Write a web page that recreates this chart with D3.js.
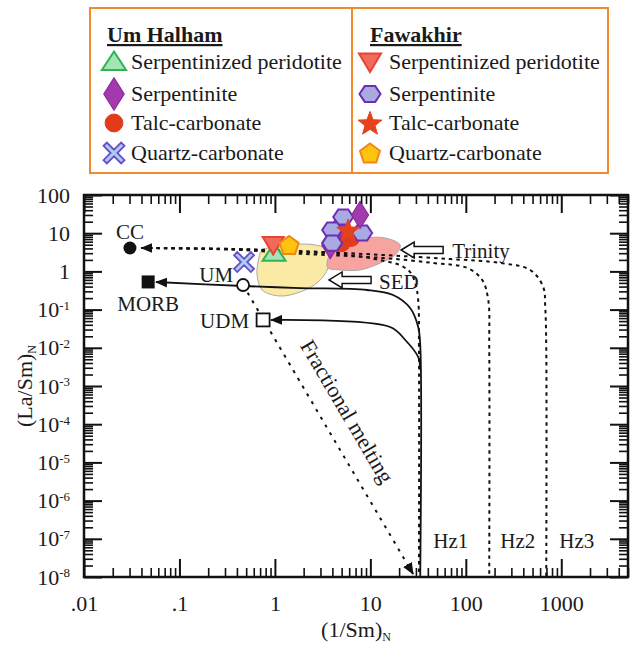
<!DOCTYPE html>
<html><head><meta charset="utf-8">
<script src="https://cdn.jsdelivr.net/npm/d3@7"></script>
<style>
body{margin:0;background:#fff}
svg{display:block}
text{font-family:"Liberation Serif","Times New Roman",serif;fill:#1a1a1a}
</style>
</head><body>
<svg id="chart" width="636" height="646"></svg>
<script>
// ---------- data ----------
const xTickValues = [0.01, 0.1, 1, 10, 100, 1000];
const xTickLabels = [".01", ".1", "1", "10", "100", "1000"];
const yTickValues = [100, 10, 1, 1e-1, 1e-2, 1e-3, 1e-4, 1e-5, 1e-6, 1e-7, 1e-8];
const yTickBase   = ["100", "10", "1", "10", "10", "10", "10", "10", "10", "10", "10"];
const yTickExp    = ["", "", "", "-1", "-2", "-3", "-4", "-5", "-6", "-7", "-8"];

// samples  [1/Sm_N, La/Sm_N]
const umSerpPeridotite  = [[0.98, 3.0]];
const umSerpentinite    = [[7.8, 30], [4.8, 16], [3.8, 4.9]];
const umTalcCarbonate   = [[5.0, 5.5], [6.3, 7.5]];
const umQuartzCarbonate = [[0.475, 1.76]];
const fwSerpPeridotite  = [[0.96, 4.9]];
const fwSerpentinite    = [[5.2, 26.5], [3.98, 12.1], [3.98, 5.5], [8.2, 10.1]];
const fwTalcCarbonate   = [[5.85, 12.1]];
const fwQuartzCarbonate = [[1.41, 4.9]];

// reference components
const ccPoint   = [0.0303, 4.1];
const morbPoint = [0.047, 0.53];
const umPoint   = [0.464, 0.44];
const udmPoint  = [0.752, 0.0537];

// fields
const yellowField = [[0.667,1.76],[0.735,3.63],[1.13,4.35],[1.84,5.2],[2.98,4.6],[3.79,3.2],[3.61,1.23],[2.84,0.53],[1.84,0.29],[1.13,0.227],[0.735,0.326],[0.65,0.80]];
const trinityField = [[3.52,1.76],[4.07,3.63],[5.44,5.9],[8.82,7.5],[14.3,7.5],[20.5,4.9],[18.2,2.69],[12.7,1.66],[7.8,1.09],[4.8,1.09],[3.6,1.23]];

// mixing curves CC -> harzburgites (dotted)
const mixHz1 = [[0.04,4.1],[0.365,3.86],[1.84,3.22],[6.14,2.69],[13.6,1.9],[20.5,1.45],[26.1,0.96],[29.5,0.5],[31.7,0.178],[32.3,0.00875],[32.3,1e-8]];
const mixHz2 = [[0.04,4.1],[0.365,3.7],[1.84,2.9],[13.6,2.24],[45.5,1.66],[103.5,1.23],[148.6,0.596],[171.8,0.178],[175.9,0.01],[175.9,1e-8]];
const mixHz3 = [[0.04,4.1],[0.365,3.86],[1.84,3.42],[13.6,2.69],[68.6,2.11],[229.6,1.66],[473,1.09],[647,0.39],[679,0.117],[696,0.01],[696,1e-8]];
// solid curves (towards MORB and UDM)
const curveMorb = [[0.0569,0.528],[0.464,0.415],[1.84,0.367],[9.25,0.326],[17.3,0.241],[26.1,0.110],[31.7,0.0351],[33.3,0.0118],[33.3,1e-8]];
const curveUdm  = [[0.912,0.0535],[16.1,0.0351],[23.2,0.016],[31.7,0.00574],[33.3,0.00263]];
// fractional melting trend
const fracMelt = [[0.464,0.44],[28,1.2e-8]];

const legendLeftTitle = "Um Halham";
const legendRightTitle = "Fawakhir";
const legendLabels = ["Serpentinized peridotite","Serpentinite","Talc-carbonate","Quartz-carbonate"];

// ---------- setup ----------
const svg = d3.select("#chart");
const x = d3.scaleLog().domain([0.01, 5000]).range([84, 628]);
const y = d3.scaleLog().domain([1e-8, 100]).range([577, 195]);
const [X0, X1] = x.range();
const [Y0, Y1] = y.range(); // Y0 bottom, Y1 top

const defs = svg.append("defs");
defs.append("marker").attr("id","ah").attr("viewBox","0 0 12 10").attr("refX",11).attr("refY",5)
  .attr("markerWidth",12).attr("markerHeight",10).attr("markerUnits","userSpaceOnUse")
  .attr("orient","auto-start-reverse")
  .append("path").attr("d","M0,0 L12,5 L0,10 Z").attr("fill","#111");

// ---------- fields ----------
const closed = d3.line().x(d=>x(d[0])).y(d=>y(d[1])).curve(d3.curveCatmullRomClosed.alpha(0.5));
svg.append("path").attr("d", closed(yellowField)).attr("fill","#fbeaa6").attr("stroke","#a9a9a9").attr("stroke-width",1);
svg.append("path").attr("d", closed(trinityField)).attr("fill","#f7a3a0").attr("stroke","#a9a9a9").attr("stroke-width",1);

// ---------- curves ----------
const open = d3.line().x(d=>x(d[0])).y(d=>y(d[1])).curve(d3.curveCatmullRom.alpha(0.5));
[mixHz3, mixHz2, mixHz1].forEach((c,i)=>{
  const p = svg.append("path").attr("d", open(c)).attr("fill","none").attr("stroke","#111")
    .attr("stroke-width",2).attr("stroke-dasharray","3.5,4");
  if (i===2) p.attr("marker-start","url(#ah)");
});
svg.append("path").attr("d", open(curveMorb)).attr("fill","none").attr("stroke","#111").attr("stroke-width",1.8).attr("marker-start","url(#ah)");
svg.append("path").attr("d", open(curveUdm)).attr("fill","none").attr("stroke","#111").attr("stroke-width",1.8).attr("marker-start","url(#ah)");
svg.append("path").attr("d", d3.line().x(d=>x(d[0])).y(d=>y(d[1]))(fracMelt)).attr("fill","none").attr("stroke","#111")
  .attr("stroke-width",2).attr("stroke-dasharray","3,6").attr("marker-end","url(#ah)");

// reference component symbols
svg.append("circle").attr("cx",x(ccPoint[0])).attr("cy",y(ccPoint[1])).attr("r",6.5).attr("fill","#111");
svg.append("rect").attr("x",x(morbPoint[0])-6.5).attr("y",y(morbPoint[1])-6.5).attr("width",13).attr("height",13).attr("fill","#111");
svg.append("circle").attr("cx",x(umPoint[0])).attr("cy",y(umPoint[1])).attr("r",6).attr("fill","#fff").attr("stroke","#111").attr("stroke-width",1.8);
svg.append("rect").attr("x",x(udmPoint[0])-6.5).attr("y",y(udmPoint[1])-6.5).attr("width",13).attr("height",13).attr("fill","#fff").attr("stroke","#111").attr("stroke-width",1.8);

// labels
const lab = (t, px, py, anchor) => svg.append("text").attr("x",px).attr("y",py).attr("font-size",21).attr("text-anchor",anchor||"start").text(t);
lab("CC", x(ccPoint[0]), y(ccPoint[1])-9, "middle");
lab("MORB", x(morbPoint[0]), y(morbPoint[1])+29, "middle");
lab("UM", x(umPoint[0])-10, y(umPoint[1])-3, "end");
lab("UDM", x(udmPoint[0])-14, y(udmPoint[1])+8, "end");
lab("Hz1", x(33.3)+13, Y0-29);
lab("Hz2", x(175.9)+11, Y0-29);
lab("Hz3", x(696)+13, Y0-29);

// block arrows (tip at anchor, pointing left)
function blockArrow(px, py){
  svg.append("path").attr("transform",`translate(${px},${py})`)
    .attr("d","M0,0 L13,-8 L13,-3.5 L42,-3.5 L42,3.5 L13,3.5 L13,8 Z")
    .attr("fill","#fff").attr("stroke","#111").attr("stroke-width",1.5);
}
blockArrow(x(3.52)+2, y(0.596));
lab("SED", x(3.52)+52, y(0.596)+9);
blockArrow(x(20.5)+1, y(3.63));
lab("Trinity", x(20.5)+52, y(3.63)+8);

// fractional melting text
{
  const p0=[x(fracMelt[0][0]),y(fracMelt[0][1])], p1=[x(fracMelt[1][0]),y(fracMelt[1][1])];
  const ang = Math.atan2(p1[1]-p0[1], p1[0]-p0[0]);
  const mx=(p0[0]+p1[0])/2, my=(p0[1]+p1[1])/2;
  const nx=Math.sin(ang)*20, ny=-Math.cos(ang)*20;
  svg.append("text").attr("transform",`translate(${mx+nx+2},${my+ny-8}) rotate(${ang*180/Math.PI})`)
    .attr("font-size",22).attr("text-anchor","middle").attr("dy","0.35em").text("Fractional melting");
}

// ---------- sample symbols ----------
function shapePath(type, s){
  s = s||1;
  switch(type){
    case "tri": return `M0,${-10*s} L${11.5*s},${7.5*s} L${-11.5*s},${7.5*s} Z`;
    case "dtri": return `M${-10.5*s},${-8*s} L${10.5*s},${-8*s} L0,${9.5*s} Z`;
    case "diamond": return `M0,${-13.5*s} L${8.5*s},0 L0,${13.5*s} L${-8.5*s},0 Z`;
    case "hex": { const r=10*s; return d3.range(6).map(i=>{const a=i*Math.PI/3; return (i?"L":"M")+(r*Math.cos(a)).toFixed(2)+","+(r*0.87*Math.sin(a)).toFixed(2);}).join("")+"Z"; }
    case "pent": { const r=10*s; return d3.range(5).map(i=>{const a=-Math.PI/2+i*2*Math.PI/5; return (i?"L":"M")+(r*Math.cos(a)).toFixed(2)+","+(r*Math.sin(a)+1).toFixed(2);}).join("")+"Z"; }
    case "star": { const ro=12*s, ri=5*s; return d3.range(10).map(i=>{const a=-Math.PI/2+i*Math.PI/5, r=i%2?ri:ro; return (i?"L":"M")+(r*Math.cos(a)).toFixed(2)+","+(r*Math.sin(a)+1).toFixed(2);}).join("")+"Z"; }
    case "circle": { const r=8.5*s; return `M${r},0 A${r},${r} 0 1,1 ${-r},0 A${r},${r} 0 1,1 ${r},0 Z`; }
    case "cross": { const L=10*s, w=3.2*s;
      const pts=[[0,-w],[L-w,-L],[L,-L+w],[w,0],[L,L-w],[L-w,L],[0,w],[-L+w,L],[-L,L-w],[-w,0],[-L,-L+w],[-L+w,-L]];
      return "M"+pts.map(p=>p[0].toFixed(2)+","+p[1].toFixed(2)).join("L")+"Z"; }
  }
}
const styles = {
  umSP:{type:"tri", fill:"#a6e3b6", stroke:"#2db455", sw:2},
  umS:{type:"diamond", fill:"#a23aad", stroke:"#8a2a9a", sw:1.2},
  umTC:{type:"circle", fill:"#e23b1c", stroke:"#e23b1c", sw:1},
  umQC:{type:"cross", fill:"#a9cdf0", stroke:"#6a4cc6", sw:1.8},
  fwSP:{type:"dtri", fill:"#f26a5c", stroke:"#e6452f", sw:2},
  fwS:{type:"hex", fill:"#aaaae2", stroke:"#6c2eb3", sw:2},
  fwTC:{type:"star", fill:"#e5411d", stroke:"#e5411d", sw:1},
  fwQC:{type:"pent", fill:"#fec30f", stroke:"#f0871b", sw:2}
};
function plot(data, st){
  svg.append("g").selectAll("path").data(data).join("path")
    .attr("transform", d=>`translate(${x(d[0])},${y(d[1])})`)
    .attr("d", shapePath(st.type)).attr("fill", st.fill).attr("stroke", st.stroke).attr("stroke-width", st.sw).attr("stroke-linejoin","miter");
}
plot(umQuartzCarbonate, styles.umQC);
plot(umSerpPeridotite, styles.umSP);
plot(fwSerpPeridotite, styles.fwSP);
plot(fwQuartzCarbonate, styles.fwQC);
plot(umTalcCarbonate, styles.umTC);
plot(umSerpentinite.slice(1), styles.umS);
plot(fwSerpentinite, styles.fwS);
plot(umSerpentinite.slice(0,1), styles.umS);
plot(fwTalcCarbonate, styles.fwTC);

// ---------- axes ----------
const minorX = [], minorY = [];
for (let e=-2; e<=3; e++) for (let m=2; m<=9; m++){ const v=m*Math.pow(10,e); if (v<=5000) minorX.push(v); }
for (let e=-8; e<=1; e++) for (let m=2; m<=9; m++) minorY.push(m*Math.pow(10,e));

function styleAxis(g, sw){ g.select(".domain").remove(); g.selectAll(".tick line").attr("stroke","#111").attr("stroke-width",sw); }

const gB = svg.append("g").attr("transform",`translate(0,${Y0})`)
  .call(d3.axisBottom(x).tickValues(xTickValues).tickFormat((d,i)=>xTickLabels[i]).tickSizeInner(-18).tickSizeOuter(0).tickPadding(18));
styleAxis(gB,2);
gB.selectAll("text").attr("font-size",22).attr("font-family","Liberation Serif").attr("fill","#1a1a1a");
styleAxis(svg.append("g").attr("transform",`translate(0,${Y0})`).call(d3.axisBottom(x).tickValues(minorX).tickFormat("").tickSizeInner(-9).tickSizeOuter(0)),1.6);
styleAxis(svg.append("g").attr("transform",`translate(0,${Y1})`).call(d3.axisTop(x).tickValues(xTickValues).tickFormat("").tickSizeInner(-18).tickSizeOuter(0)),2);
styleAxis(svg.append("g").attr("transform",`translate(0,${Y1})`).call(d3.axisTop(x).tickValues(minorX).tickFormat("").tickSizeInner(-9).tickSizeOuter(0)),1.6);

const gL = svg.append("g").attr("transform",`translate(${X0},0)`)
  .call(d3.axisLeft(y).tickValues(yTickValues).tickFormat("").tickSizeInner(-18).tickSizeOuter(0).tickPadding(14));
styleAxis(gL,2);
gL.selectAll(".tick text").each(function(d,i){
  const t = d3.select(this).attr("font-size",22).attr("font-family","Liberation Serif").attr("fill","#1a1a1a");
  t.text(yTickBase[i]);
  if (yTickExp[i]) t.append("tspan").attr("font-size",13).attr("dy","-0.55em").text(yTickExp[i]);
});
styleAxis(svg.append("g").attr("transform",`translate(${X0},0)`).call(d3.axisLeft(y).tickValues(minorY).tickFormat("").tickSizeInner(-9).tickSizeOuter(0)),1.6);
styleAxis(svg.append("g").attr("transform",`translate(${X1},0)`).call(d3.axisRight(y).tickValues(yTickValues).tickFormat("").tickSizeInner(-18).tickSizeOuter(0)),2);
styleAxis(svg.append("g").attr("transform",`translate(${X1},0)`).call(d3.axisRight(y).tickValues(minorY).tickFormat("").tickSizeInner(-9).tickSizeOuter(0)),1.6);

svg.append("rect").attr("x",X0).attr("y",Y1).attr("width",X1-X0).attr("height",Y0-Y1).attr("fill","none").attr("stroke","#111").attr("stroke-width",2.5);

// axis titles
const xt = svg.append("text").attr("x",(X0+X1)/2).attr("y",637).attr("text-anchor","middle").attr("font-size",22).text("(1/Sm)");
xt.append("tspan").attr("font-size",12).attr("dy","0.3em").text("N");
const yt = svg.append("text").attr("transform",`translate(32,${(Y0+Y1)/2}) rotate(-90)`).attr("text-anchor","middle").attr("font-size",22).text("(La/Sm)");
yt.append("tspan").attr("font-size",12).attr("dy","0.3em").text("N");

// ---------- legend ----------
const lg = svg.append("g");
lg.append("rect").attr("x",90).attr("y",8).attr("width",518).attr("height",165).attr("fill","#fff").attr("stroke","#f08a2a").attr("stroke-width",2);
lg.append("line").attr("x1",352).attr("x2",352).attr("y1",8).attr("y2",173).attr("stroke","#f08a2a").attr("stroke-width",2);
lg.append("text").attr("x",107).attr("y",42).attr("font-size",22).attr("font-weight","bold").attr("text-decoration","underline").text(legendLeftTitle);
lg.append("text").attr("x",370).attr("y",42).attr("font-size",22).attr("font-weight","bold").attr("text-decoration","underline").text(legendRightTitle);
const rowsY = [62, 94, 123, 153];
const leftSt = [styles.umSP, styles.umS, styles.umTC, styles.umQC];
const rightSt = [styles.fwSP, styles.fwS, styles.fwTC, styles.fwQC];
legendLabels.forEach((t,i)=>{
  const a=leftSt[i], b=rightSt[i];
  lg.append("path").attr("transform",`translate(114,${rowsY[i]})`).attr("d",shapePath(a.type, a.type==="diamond"?1.2:1.05)).attr("fill",a.fill).attr("stroke",a.stroke).attr("stroke-width",a.sw);
  lg.append("text").attr("x",131).attr("y",rowsY[i]+7).attr("font-size",22).text(t);
  lg.append("path").attr("transform",`translate(370,${rowsY[i]})`).attr("d",shapePath(b.type,1.05)).attr("fill",b.fill).attr("stroke",b.stroke).attr("stroke-width",b.sw);
  lg.append("text").attr("x",389).attr("y",rowsY[i]+7).attr("font-size",22).text(t);
});
</script>
</body></html>
